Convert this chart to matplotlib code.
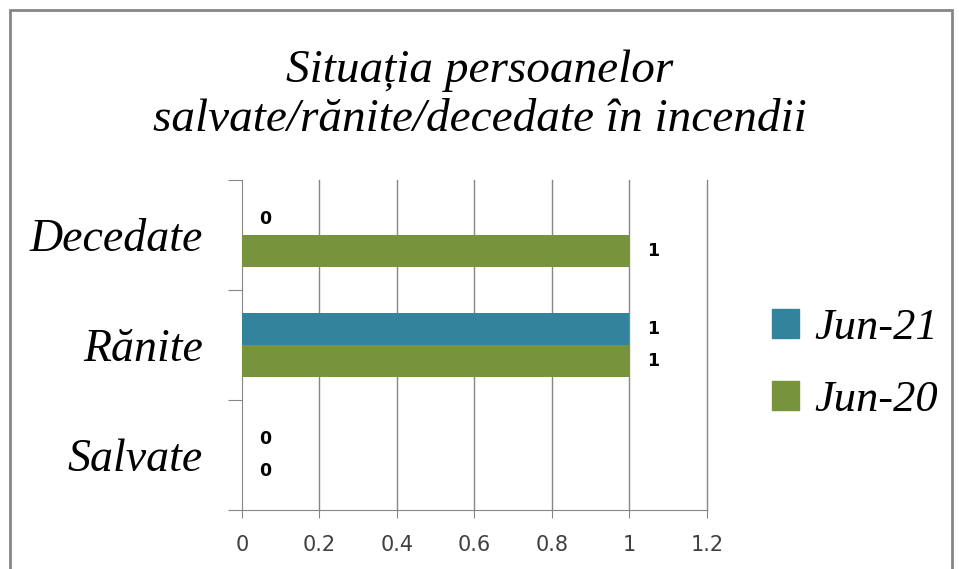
import matplotlib.pyplot as plt
from matplotlib.patches import Rectangle, Patch

categories = ["Salvate", "Rănite", "Decedate"]
jun21 = [0, 1, 0]
jun20 = [0, 1, 1]
series_names = ["Jun-21", "Jun-20"]
xticks = [0, 0.2, 0.4, 0.6, 0.8, 1, 1.2]

c21 = "#31849B"
c20 = "#77933C"
grid_c = "#868686"
serif = ["Liberation Serif", "DejaVu Serif"]

fig = plt.figure(figsize=(9.59, 5.69), dpi=100)
ax = fig.add_axes([0.2523, 0.1037, 0.4849, 0.58])

h = 0.29
ypos = list(range(len(categories)))
ax.barh([y + h / 2 for y in ypos], jun21, height=h, color=c21, zorder=3)
ax.barh([y - h / 2 for y in ypos], jun20, height=h, color=c20, zorder=3)

# data labels
for y, v in zip(ypos, jun21):
    ax.text(v + 0.06, y + h / 2, str(v), ha="center", va="center",
            fontsize=12.5, fontweight="bold", color="black")
for y, v in zip(ypos, jun20):
    ax.text(v + 0.06, y - h / 2, str(v), ha="center", va="center",
            fontsize=12.5, fontweight="bold", color="black")

ax.set_xlim(0, 1.2)
ax.set_ylim(-0.5, 2.5)
ax.set_xticks(xticks)
ax.set_xticklabels(["0", "0.2", "0.4", "0.6", "0.8", "1", "1.2"],
                   fontsize=15, color="#404040")
ax.tick_params(axis="x", length=6, color=grid_c, pad=12)
for x in xticks[1:]:
    ax.axvline(x, color=grid_c, linewidth=1, zorder=0, clip_on=False)

ax.set_yticks([-0.5, 0.5, 1.5, 2.5])
ax.set_yticklabels([])
ax.tick_params(axis="y", which="major", length=10, color=grid_c)
ax.set_yticks(ypos, minor=True)
ax.set_yticklabels(categories, minor=True, fontsize=33, style="italic",
                   family=serif)
ax.tick_params(axis="y", which="minor", length=0, pad=28)

for s in ["top", "right"]:
    ax.spines[s].set_visible(False)
for s in ["left", "bottom"]:
    ax.spines[s].set_color(grid_c)

fig.text(0.5, 0.875, "Situația persoanelor", ha="center", va="center",
         fontsize=34, style="italic", family=serif)
fig.text(0.5, 0.79, "salvate/rănite/decedate în incendii", ha="center",
         va="center", fontsize=34, style="italic", family=serif)

handles = [Patch(color=c21), Patch(color=c20)]
fig.legend(handles, series_names, loc="center left",
           bbox_to_anchor=(0.805, 0.36), frameon=False,
           prop={"family": serif, "style": "italic", "size": 32},
           handlelength=0.6, handleheight=0.6, handletextpad=0.35,
           labelspacing=0.72, borderpad=0, borderaxespad=0)

fig.add_artist(Rectangle((10 / 959, -0.01), 942 / 959, 1 - 10 / 569 + 0.01,
                         transform=fig.transFigure, fill=False,
                         edgecolor=grid_c, linewidth=2))

fig.savefig("out.png", dpi=100)
